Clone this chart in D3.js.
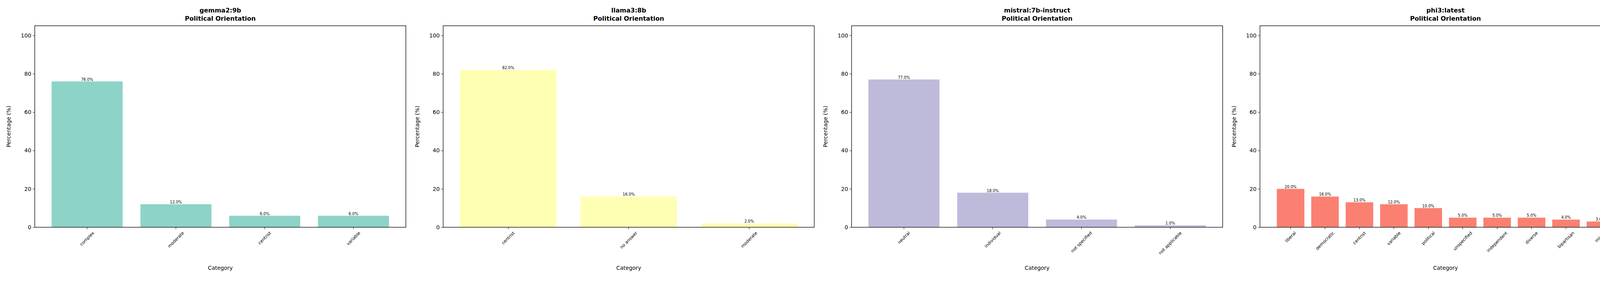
<!DOCTYPE html>
<html>
<head>
<meta charset="utf-8">
<script src="https://cdn.jsdelivr.net/npm/d3@7"></script>
<style>
  body { margin: 0; background: #fff; }
  text { font-family: "DejaVu Sans", sans-serif; fill: #000; }
</style>
</head>
<body>
<svg id="chart"></svg>
<script>
// data per model
const models = ["gemma2:9b", "llama3:8b", "mistral:7b-instruct", "phi3:latest", "qwen2:7b"];
const colors = ["#8dd3c7", "#ffffb3", "#bebada", "#fb8072", "#80b1d3"];

const gemmaCats = ["complex", "moderate", "centrist", "variable"];
const gemmaVals = [76, 12, 6, 6];
const llamaCats = ["centrist", "no answer", "moderate"];
const llamaVals = [82, 16, 2];
const mistralCats = ["neutral", "individual", "not specified", "not applicable"];
const mistralVals = [77, 18, 4, 1];
const phiCats = ["liberal", "democratic", "centrist", "variable", "political", "unspecified", "independent", "diverse", "bipartisan", "mixed"];
const phiVals = [20, 16, 13, 12, 10, 5, 5, 5, 4, 3];
const qwenCats = ["moderate", "centerist", "middle class"];
const qwenVals = [56, 41, 3];

const yTicks = [0, 20, 40, 60, 80, 100];

const panels = [
  [gemmaCats, gemmaVals], [llamaCats, llamaVals], [mistralCats, mistralVals],
  [phiCats, phiVals], [qwenCats, qwenVals]
];

const W = 5235, H = 735;
const svg = d3.select("#chart").attr("width", W).attr("height", H);

const plotTop = 66, plotBottom = 582, pw = 950, pitch = 1045.5, left0 = 89;
const y = d3.scaleLinear().domain([0, 105]).range([plotBottom, plotTop]);

panels.forEach(([cats, vals], i) => {
  const left = left0 + pitch * i;
  const n = cats.length;
  const m = (n - 1 + 0.8) * 0.05;
  const x = d3.scaleLinear().domain([-0.4 - m, n - 1 + 0.4 + m]).range([0, pw]);
  const g = svg.append("g").attr("transform", `translate(${left},0)`);

  g.selectAll("rect").data(vals).enter().append("rect")
    .attr("x", (d, j) => x(j - 0.4))
    .attr("width", x(0.8) - x(0))
    .attr("y", d => y(d))
    .attr("height", d => y(0) - y(d))
    .attr("fill", colors[i]);

  g.selectAll(".val").data(vals).enter().append("text")
    .attr("class", "val")
    .attr("x", (d, j) => x(j))
    .attr("y", d => y(d) - 2)
    .attr("text-anchor", "middle")
    .style("font-size", "9.7px")
    .text(d => d.toFixed(1) + "%");

  // y axis
  g.append("g")
    .call(d3.axisLeft(y).tickValues(yTicks).tickSize(5).tickPadding(4))
    .call(a => a.select(".domain").remove())
    .call(a => a.selectAll("line").attr("stroke", "#262626").attr("stroke-width", 1.2))
    .call(a => a.selectAll("text").style("font-size", "13.9px").style("font-family", "DejaVu Sans"));

  // x ticks
  const xt = g.append("g");
  cats.forEach((c, j) => {
    xt.append("line").attr("x1", x(j)).attr("x2", x(j))
      .attr("y1", plotBottom).attr("y2", plotBottom + 5)
      .attr("stroke", "#262626").attr("stroke-width", 1.2);
    const t = xt.append("text")
      .attr("text-anchor", "middle")
      .attr("dominant-baseline", "central")
      .style("font-size", "11px")
      .text(c);
    const len = t.node().getComputedTextLength();
    const h = (len + 11) * Math.SQRT1_2;
    t.attr("transform", `translate(${x(j)},${plotBottom + 9 + h / 2}) rotate(-45)`);
  });

  // frame
  g.append("rect").attr("x", 0).attr("y", plotTop).attr("width", pw).attr("height", plotBottom - plotTop)
    .attr("fill", "none").attr("stroke", "#262626").attr("stroke-width", 1.6);

  g.append("text").attr("x", pw / 2).attr("y", 691).attr("text-anchor", "middle")
    .style("font-size", "13.9px").text("Category");
  g.append("text").attr("transform", `translate(-62,${(plotTop + plotBottom) / 2}) rotate(-90)`)
    .attr("text-anchor", "middle").style("font-size", "13.9px").text("Percentage (%)");

  const title = g.append("text").attr("text-anchor", "middle")
    .style("font-size", "16px").style("font-weight", "bold");
  title.append("tspan").attr("x", pw / 2).attr("y", 32).text(models[i]);
  title.append("tspan").attr("x", pw / 2).attr("y", 53).text("Political Orientation");
});
</script>
</body>
</html>
